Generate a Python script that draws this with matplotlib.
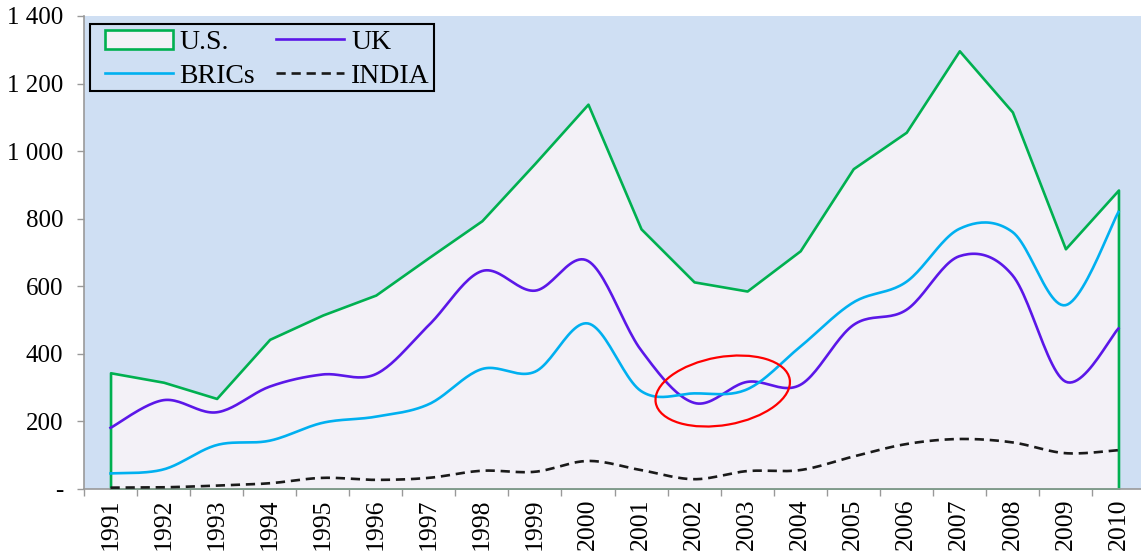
import numpy as np
import matplotlib
matplotlib.use('Agg')
import matplotlib.pyplot as plt
from matplotlib.patches import Ellipse, Rectangle
from matplotlib.transforms import ScaledTranslation
from matplotlib.ticker import FuncFormatter, FixedLocator

plt.rcParams['font.family'] = ['Liberation Serif', 'DejaVu Serif']

# values
years = list(range(1991, 2011))
us = [344, 316, 268, 443, 515, 574, 685, 794, 964, 1139,
      770, 613, 586, 705, 948, 1056, 1297, 1116, 711, 885]
uk = [181, 263, 227, 303, 339, 340, 485, 645, 587, 675,
      411, 255, 317, 308, 485, 530, 689, 633, 318, 475]
brics = [46, 58, 130, 143, 196, 214, 251, 355, 347, 490,
         290, 283, 295, 421, 552, 613, 770, 761, 544, 820]
india = [4, 5, 10, 17, 33, 27, 33, 54, 51, 83,
         56, 29, 53, 56, 96, 133, 148, 138, 106, 115]


def smooth(xs, ys, n=24):
    """excel-style smoothed line (bezier through each point)"""
    p = np.column_stack([xs, ys]).astype(float)
    p = np.vstack([p[0], p, p[-1]])
    t = np.linspace(0, 1, n, endpoint=False)[:, None]
    out = []
    for i in range(1, len(p) - 2):
        p0, p1, p2, p3 = p[i - 1], p[i], p[i + 1], p[i + 2]
        c1 = p1 + (p2 - p0) / 6
        c2 = p2 - (p3 - p1) / 6
        out.append((1 - t) ** 3 * p1 + 3 * (1 - t) ** 2 * t * c1
                   + 3 * (1 - t) * t ** 2 * c2 + t ** 3 * p2)
    out.append(p[-2][None])
    pts = np.vstack(out)
    return pts[:, 0], pts[:, 1]


W, H = 1141, 555
fig = plt.figure(figsize=(W / 100, H / 100), dpi=100)
ax = fig.add_axes([84 / W, 66 / H, 1061 / W, 473 / H])
ax.set_facecolor('#CFDFF3')

ax.fill_between(years, 0, us, facecolor='#F3F1F7', edgecolor='#00B050',
                linewidth=1.9, label='U.S.', zorder=2)
x, y = smooth(years, uk)
ax.plot(x, y, color='#5B17E8', lw=1.9, label='UK', zorder=3)
x, y = smooth(years, brics)
ax.plot(x, y, color='#00B0F0', lw=1.9, label='BRICs', zorder=3)
x, y = smooth(years, india)
ax.plot(x, y, color='#1a1a1a', lw=1.9, ls=(0, (3.5, 2.2)), label='INDIA', zorder=3)

# red circle around 2002-2003
ax.add_patch(Ellipse((0, 0), 1.36, 0.68, angle=10, fill=False,
                     edgecolor='#FF0000', lw=1.6, zorder=4,
                     transform=fig.dpi_scale_trans + ScaledTranslation(2002.54, 290, ax.transData)))

ax.set_xlim(1990.5, 2010.5)
ax.set_ylim(0, 1400)

ax.set_xticks(years)
ax.set_xticklabels([str(v) for v in years], rotation=90, fontsize=18.5)
ax.tick_params(axis='x', which='major', length=0, pad=7)
ax.xaxis.set_minor_locator(FixedLocator([v - 0.5 for v in years] + [2010.5]))
ax.tick_params(axis='x', which='minor', length=5, color='#999999', width=1)

ax.set_yticks(range(0, 1401, 200))
ax.yaxis.set_major_formatter(FuncFormatter(
    lambda v, pos: '-' if v == 0 else '{:,}'.format(int(v)).replace(',', ' ')))
ax.tick_params(axis='y', length=5, color='#999999', width=1, labelsize=18, pad=10)

for s in ['top', 'right']:
    ax.spines[s].set_visible(False)
for s in ['left', 'bottom']:
    ax.spines[s].set_color('#999999')
    ax.spines[s].set_linewidth(1.2)

# legend box drawn separately so the padding can differ from the entries
fig.patches.append(Rectangle((90 / W, 1 - 91 / H), 344 / W, 67 / H,
                             transform=fig.transFigure, facecolor='#CFDFF3',
                             edgecolor='black', lw=1.5, zorder=5))
h, l = ax.get_legend_handles_labels()
order = [0, 2, 1, 3]  # US, BRICs, UK, INDIA -> row layout US/UK, BRICs/INDIA
leg = fig.legend([h[i] for i in order], [l[i] for i in order], ncol=2,
                 loc='upper left', bbox_to_anchor=(99 / W, 1 - 24 / H), fontsize=20,
                 frameon=False, borderpad=0.2, labelspacing=0.3,
                 handlelength=2.45, handletextpad=0.25, columnspacing=0.75,
                 borderaxespad=0)
leg.set_zorder(6)

fig.savefig('out.png', dpi=100)
